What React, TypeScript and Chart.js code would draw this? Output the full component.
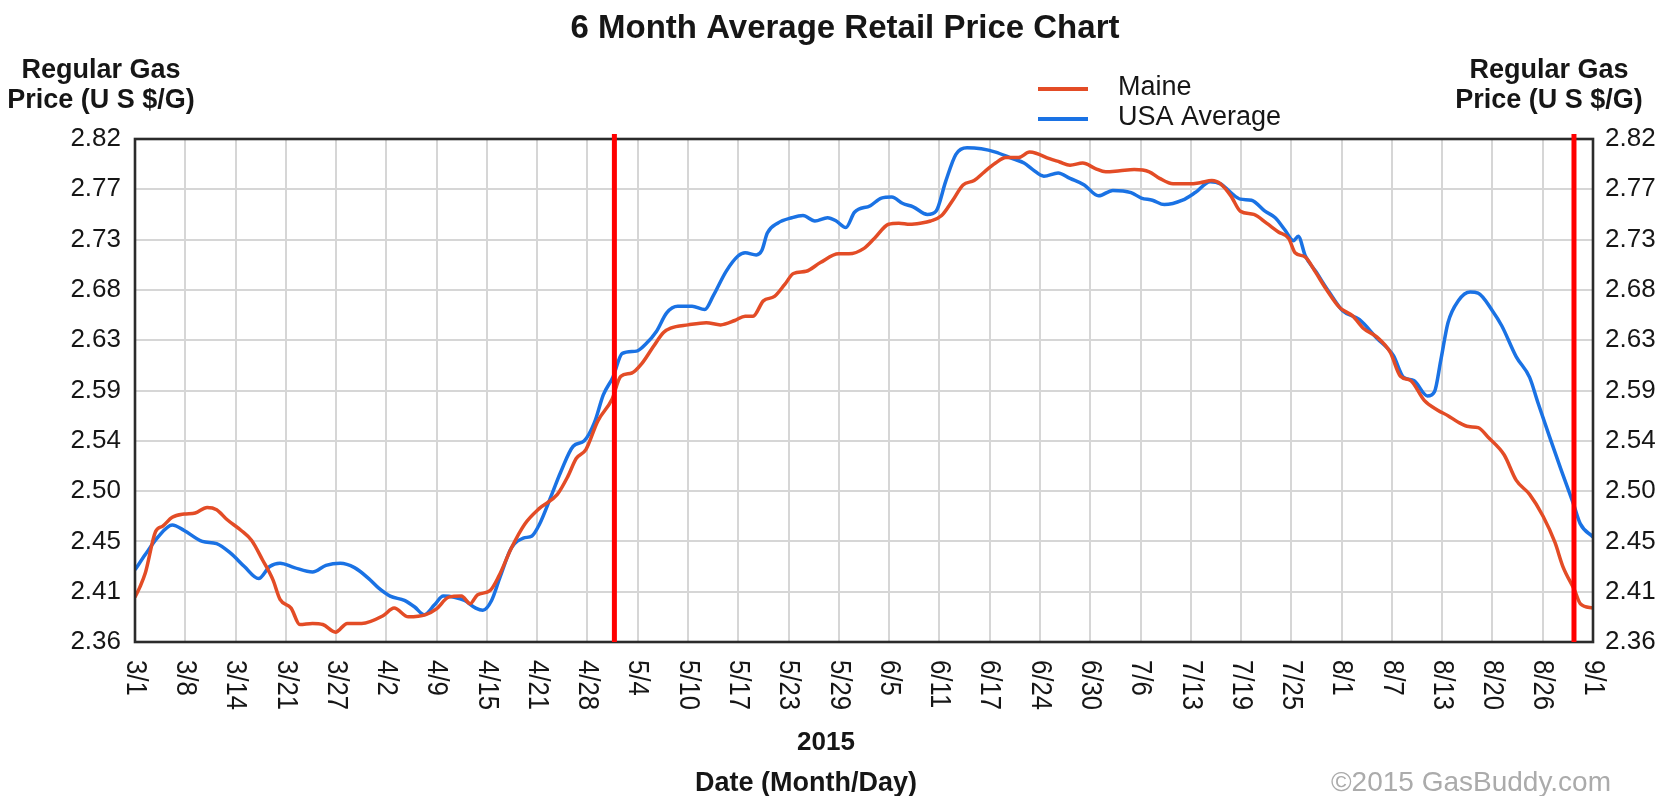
import React, { useEffect, useRef } from "react";
import { Chart, registerables } from "chart.js";

Chart.register(...registerables);

// ---------- data ----------
const chartTitle = "6 Month Average Retail Price Chart";
const yAxisTitle = ["Regular Gas", "Price (U S $/G)"];
const xAxisYear = "2015";
const xAxisTitle = "Date (Month/Day)";
const copyright = "\u00A92015 GasBuddy.com";

const X_MAX = 184; // days from 3/1 to 9/1
const xTickLabels = [
  "3/1", "3/8", "3/14", "3/21", "3/27", "4/2", "4/9", "4/15", "4/21", "4/28",
  "5/4", "5/10", "5/17", "5/23", "5/29", "6/5", "6/11", "6/17", "6/24", "6/30",
  "7/6", "7/13", "7/19", "7/25", "8/1", "8/7", "8/13", "8/20", "8/26", "9/1",
];

const Y_MIN = 2.36;
const Y_MAX = 2.82;
const yTickLabels = ["2.36", "2.41", "2.45", "2.50", "2.54", "2.59", "2.63", "2.68", "2.73", "2.77", "2.82"];

// red marker lines (day offsets from 3/1)
const markerDays = [60.5, 181.6];

const maineDays = [
  0, 0.6, 1.3, 2.6, 3.5, 4.7, 6.2, 7.6, 9.1, 10.3, 11.6, 13.4, 14.7, 16.1, 17.4, 18.3, 19.7, 20.8,
  22.4, 23.7, 25.3, 26.8, 28.6, 31.3, 32.7, 34.5, 36.7, 38.0, 39.6, 41.2, 42.3, 43.2, 44.8, 45.9,
  47.5, 49.2, 51.0, 53.3, 54.6, 55.7, 56.9, 58.4, 60.2, 61.3, 62.7, 64.0, 65.4, 66.7, 67.6, 69.8,
  72.1, 73.9, 75.7, 77.0, 78.0, 79.3, 80.7, 82.0, 83.1, 84.7, 86.5, 88.8, 90.1, 92.0, 93.3, 95.1,
  96.4, 97.8, 99.1, 100.4, 101.8, 103.2, 104.5, 105.9, 107.2, 108.6, 109.9, 111.5, 112.9, 113.7,
  115.4, 116.7, 118.0, 119.6, 121.2, 122.5, 124.3, 126.1, 128.0, 129.3, 131.0, 133.1, 134.4,
  135.9, 137.0, 138.3, 139.5, 141.2, 142.8, 144.3, 145.6, 146.4, 147.7, 149.0, 150.3, 152.0,
  153.7, 155.0, 156.7, 158.4, 159.7, 161.0, 162.7, 164.4, 165.7, 167.0, 168.3, 169.5, 170.8,
  172.8, 174.3, 176.0, 177.7, 179.2, 180.2, 181.7, 182.4, 184,
];
const maineValues = [
  2.401, 2.410, 2.423, 2.461, 2.466, 2.474, 2.477, 2.478, 2.483, 2.481, 2.472, 2.462, 2.453, 2.435, 2.417, 2.399, 2.391, 2.376,
  2.377, 2.376, 2.369, 2.377, 2.377, 2.384, 2.391, 2.383, 2.385, 2.390, 2.401, 2.402, 2.395, 2.403, 2.407, 2.420,
  2.446, 2.468, 2.482, 2.495, 2.511, 2.528, 2.536, 2.562, 2.582, 2.603, 2.606, 2.615, 2.630, 2.643, 2.647, 2.650,
  2.652, 2.650, 2.654, 2.658, 2.658, 2.672, 2.676, 2.687, 2.697, 2.699, 2.707, 2.715, 2.715, 2.720, 2.729, 2.742,
  2.743, 2.742, 2.743, 2.745, 2.750, 2.764, 2.778, 2.782, 2.790, 2.798, 2.803, 2.803, 2.808, 2.807,
  2.802, 2.799, 2.796, 2.798, 2.793, 2.790, 2.791, 2.792, 2.790, 2.784, 2.779, 2.779, 2.780,
  2.782, 2.779, 2.768, 2.754, 2.751, 2.743, 2.735, 2.729, 2.716, 2.712, 2.698, 2.683, 2.666,
  2.658, 2.647, 2.639, 2.625, 2.603, 2.599, 2.581, 2.572, 2.567, 2.561, 2.557, 2.556, 2.547,
  2.531, 2.508, 2.495, 2.475, 2.451, 2.429, 2.407, 2.395, 2.391,
];

const usaDays = [
  0, 1.3, 2.9, 4.7, 6.2, 8.5, 10.3, 12.1, 13.8, 15.6, 17.0, 18.3, 20.1, 22.4, 24.1, 25.9, 27.7,
  29.5, 30.8, 32.2, 34.0, 35.3, 36.5, 37.8, 38.9, 40.3, 41.6, 43.0, 43.9, 45.0, 46.1, 47.5, 49.0,
  50.1, 51.0, 52.6, 53.7, 55.3, 56.7, 58.0, 59.1, 60.3, 61.5, 63.3, 64.4, 65.8, 67.1, 68.5, 70.3,
  71.9, 73.0, 74.6, 76.1, 77.0, 78.4, 79.1, 79.8, 81.1, 82.9, 84.3, 85.8, 87.4, 88.5, 89.7, 90.8,
  92.8, 94.2, 95.5, 96.9, 98.2, 100.0, 101.1, 102.3, 103.6, 105.0, 106.8, 108.6, 110.4, 112.2,
  113.3, 114.7, 116.5, 118.0, 119.8, 121.6, 123.4, 125.7, 127.0, 128.4, 129.9, 132.2, 133.8,
  135.7, 137.0, 138.3, 139.5, 140.9, 142.6, 143.9, 145.1, 146.2, 146.8, 147.7, 149.0, 150.7,
  152.4, 154.5, 156.7, 158.8, 160.1, 161.4, 163.1, 164.0, 164.8, 165.7, 167.0, 168.5, 169.5,
  171.3, 172.5, 174.3, 176.0, 177.0, 178.5, 180.0, 181.5, 182.4, 184,
];
const usaValues = [
  2.426, 2.440, 2.456, 2.467, 2.462, 2.452, 2.450, 2.441, 2.429, 2.418, 2.429, 2.432, 2.428, 2.424, 2.430, 2.432, 2.428,
  2.418, 2.409, 2.402, 2.398, 2.392, 2.385, 2.394, 2.402, 2.401, 2.398, 2.391, 2.389, 2.398, 2.420, 2.446, 2.455,
  2.457, 2.467, 2.495, 2.515, 2.539, 2.544, 2.561, 2.586, 2.602, 2.624, 2.626, 2.632, 2.644, 2.661, 2.667, 2.667,
  2.664, 2.677, 2.699, 2.713, 2.716, 2.714, 2.718, 2.734, 2.743, 2.748, 2.750, 2.745, 2.748, 2.745, 2.739, 2.753,
  2.759, 2.766, 2.767, 2.761, 2.758, 2.751, 2.754, 2.781, 2.806, 2.812, 2.811, 2.808, 2.803, 2.798,
  2.792, 2.786, 2.789, 2.784, 2.778, 2.768, 2.773, 2.771, 2.766, 2.764, 2.760, 2.764, 2.771,
  2.781, 2.779, 2.771, 2.765, 2.764, 2.754, 2.748, 2.737, 2.727, 2.731, 2.713, 2.699, 2.680,
  2.663, 2.655, 2.638, 2.622, 2.602, 2.599, 2.585, 2.589, 2.618, 2.652, 2.672, 2.680, 2.679,
  2.663, 2.649, 2.621, 2.602, 2.580, 2.548, 2.517, 2.487, 2.468, 2.456,
];

const seriesNames = ["Maine", "USA Average"];

// ---------- styles ----------
const FONT = "'Liberation Sans', Arial, Helvetica, sans-serif";
const TEXT = "#161616";
const MAINE_COLOR = "#e34c26";
const USA_COLOR = "#1a72e4";
const GRID = "#d6d6d6";
const FRAME = "#2b2b2b";

const decorPlugin = {
  id: "decor",
  afterDatasetsDraw(chart: any) {
    const { ctx, chartArea: a, scales } = chart;
    const xs = scales.x;
    ctx.save();
    ctx.strokeStyle = FRAME;
    ctx.lineWidth = 2.6;
    ctx.strokeRect(a.left, a.top, a.right - a.left, a.bottom - a.top);
    ctx.strokeStyle = "#ff0000";
    ctx.lineWidth = 5;
    markerDays.forEach((d) => {
      const x = xs.getPixelForValue(d);
      ctx.beginPath();
      ctx.moveTo(x, a.top - 5);
      ctx.lineTo(x, a.bottom);
      ctx.stroke();
    });
    ctx.restore();
  },
  afterDraw(chart: any) {
    const { ctx, chartArea: a, scales } = chart;
    const xs = scales.x;
    ctx.save();
    ctx.fillStyle = TEXT;

    // x tick labels, rotated clockwise
    ctx.font = `30px ${FONT}`;
    ctx.textAlign = "left";
    ctx.textBaseline = "middle";
    xTickLabels.forEach((lab, i) => {
      const x = xs.getPixelForValue((i * X_MAX) / (xTickLabels.length - 1));
      ctx.save();
      ctx.translate(x, a.bottom + 18);
      ctx.rotate(Math.PI / 2);
      ctx.scale(0.86, 1);
      ctx.fillText(lab, 0, 0);
      ctx.restore();
    });

    // title
    ctx.textAlign = "center";
    ctx.textBaseline = "alphabetic";
    ctx.font = `bold 33px ${FONT}`;
    ctx.fillText(chartTitle, 845, 38);

    // axis titles (both sides)
    ctx.font = `bold 27px ${FONT}`;
    [101, 1549].forEach((cx) => {
      ctx.fillText(yAxisTitle[0], cx, 78);
      ctx.fillText(yAxisTitle[1], cx, 108);
    });

    // x axis titles
    ctx.font = `bold 26px ${FONT}`;
    ctx.fillText(xAxisYear, 826, 750);
    ctx.font = `bold 27px ${FONT}`;
    ctx.fillText(xAxisTitle, 806, 791);

    // copyright
    ctx.fillStyle = "#ababab";
    ctx.font = `28px ${FONT}`;
    ctx.fillText(copyright, 1471, 791);

    // legend
    const colors = [MAINE_COLOR, USA_COLOR];
    ctx.textAlign = "left";
    ctx.font = `27px ${FONT}`;
    seriesNames.forEach((name, i) => {
      const y = 89 + i * 30;
      ctx.strokeStyle = colors[i];
      ctx.lineWidth = 4;
      ctx.beginPath();
      ctx.moveTo(1038, y);
      ctx.lineTo(1088, y);
      ctx.stroke();
      ctx.fillStyle = TEXT;
      ctx.fillText(name, 1118, y + 6 + 0);
    });
    ctx.restore();
  },
};

export default function App() {
  const canvasRef = useRef<HTMLCanvasElement | null>(null);

  useEffect(() => {
    const canvas = canvasRef.current;
    if (!canvas) return;
    const yTicks = (s: any) => {
      s.ticks = yTickLabels.map((_, i) => ({
        value: Y_MIN + (i * (Y_MAX - Y_MIN)) / (yTickLabels.length - 1),
      }));
    };
    const chart = new Chart(canvas, {
      type: "line",
      data: {
        datasets: [
          {
            label: seriesNames[0],
            data: maineDays.map((d, i) => ({ x: d, y: maineValues[i] })),
            borderColor: MAINE_COLOR,
            backgroundColor: MAINE_COLOR,
            borderWidth: 3.5,
            pointRadius: 0,
            cubicInterpolationMode: "monotone",
            yAxisID: "y",
          },
          {
            label: seriesNames[1],
            data: usaDays.map((d, i) => ({ x: d, y: usaValues[i] })),
            borderColor: USA_COLOR,
            backgroundColor: USA_COLOR,
            borderWidth: 3.5,
            pointRadius: 0,
            cubicInterpolationMode: "monotone",
            yAxisID: "y",
          },
        ],
      },
      options: {
        responsive: false,
        animation: false,
        events: [],
        layout: { padding: { left: 35, right: 8, top: 139, bottom: 54 } },
        plugins: {
          legend: { display: false },
          title: { display: false },
          tooltip: { enabled: false },
        },
        scales: {
          x: {
            type: "linear",
            min: 0,
            max: X_MAX,
            afterBuildTicks: (s: any) => {
              s.ticks = xTickLabels.map((_, i) => ({ value: (i * X_MAX) / (xTickLabels.length - 1) }));
            },
            afterFit: (s: any) => {
              s.height = 100;
            },
            ticks: { display: false },
            grid: { color: GRID, lineWidth: 2, drawTicks: false },
            border: { display: false },
          },
          y: {
            type: "linear",
            position: "left",
            min: Y_MIN,
            max: Y_MAX,
            afterBuildTicks: yTicks,
            afterFit: (s: any) => {
              s.width = 100;
            },
            ticks: {
              callback: (_v: any, i: number) => yTickLabels[i],
              font: { family: FONT, size: 26 },
              color: TEXT,
              padding: 14,
            },
            grid: { color: GRID, lineWidth: 2, drawTicks: false },
            border: { display: false },
          },
          y2: {
            type: "linear",
            position: "right",
            min: Y_MIN,
            max: Y_MAX,
            afterBuildTicks: yTicks,
            afterFit: (s: any) => {
              s.width = 70;
            },
            ticks: {
              callback: (_v: any, i: number) => yTickLabels[i],
              font: { family: FONT, size: 26 },
              color: TEXT,
              padding: 12,
            },
            grid: { display: false, drawTicks: false },
            border: { display: false },
          },
        },
      },
      plugins: [decorPlugin],
    } as any);
    return () => chart.destroy();
  }, []);

  return (
    <div
      style={{
        position: "fixed",
        left: 0,
        top: 0,
        width: 1671,
        height: 796,
        background: "#ffffff",
      }}
    >
      <canvas ref={canvasRef} width={1671} height={796} style={{ display: "block" }} />
    </div>
  );
}
